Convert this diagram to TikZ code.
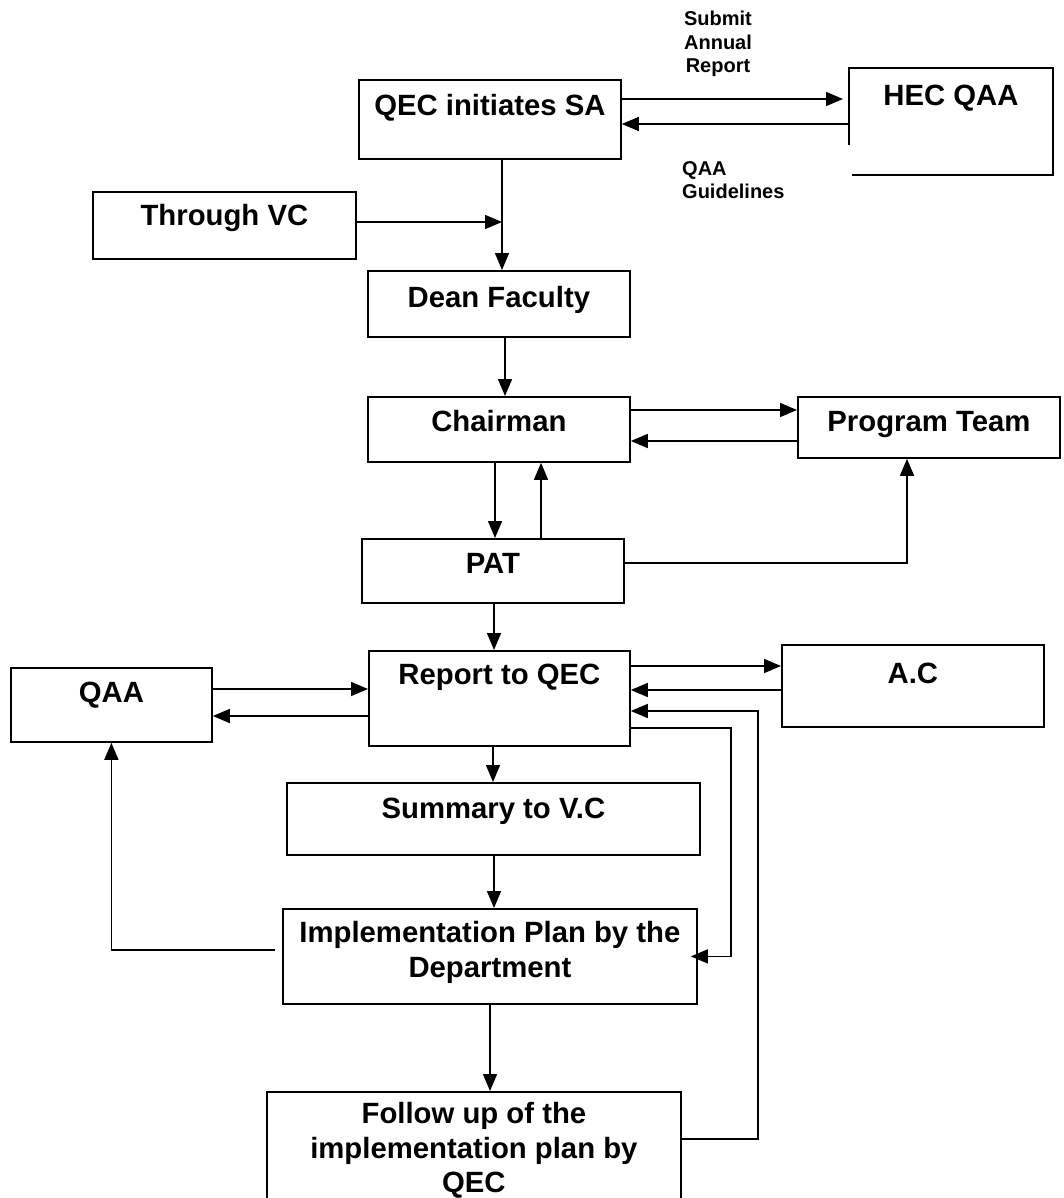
\documentclass[tikz,border=0pt]{standalone}
\usepackage{fontspec}
\setmainfont{Liberation Sans}
\usetikzlibrary{arrows.meta}
\begin{document}
\begin{tikzpicture}[x=1pt,y=-1pt,
  box/.style={draw, line width=1.8pt, anchor=north west, inner sep=0pt, align=center,
    font=\fontsize{29.3}{34.5}\selectfont\bfseries},
  note/.style={inner sep=0pt, font=\fontsize{20}{23.5}\selectfont\bfseries},
  arr/.style={line width=1.5pt, -{Triangle[length=17pt,width=14pt]}}]
\useasboundingbox (0,0) rectangle (1064,1198);
\clip (0,0) rectangle (1064,1198);
% boxes
\node[box, minimum width=262pt, text height=36pt, text depth=43pt] (qec) at (358,79) {QEC initiates SA};
\node[box, draw=none, minimum width=202pt, text height=37pt, text depth=68pt] (hec) at (849,68) {HEC QAA};
\draw[line width=1.8pt] (hec.west |- 0,145) -- (hec.north west) -- (hec.north east) -- (hec.south east) -- (852,0 |- hec.south);
\node[box, minimum width=263pt, text height=34pt, text depth=33pt] (through) at (92,191) {Through VC};
\node[box, minimum width=262pt, text height=37pt, text depth=29pt] (dean) at (367,270) {Dean Faculty};
\node[box, minimum width=262pt, text height=35pt, text depth=30pt] (chair) at (367,396) {Chairman};
\node[box, minimum width=262pt, text height=35pt, text depth=26pt] (team) at (797,396) {Program Team};
\node[box, minimum width=262pt, text height=35pt, text depth=29pt] (pat) at (361,538) {PAT};
\node[box, minimum width=261pt, text height=34pt, text depth=61pt] (report) at (368,650) {Report to QEC};
\node[box, minimum width=201pt, text height=35pt, text depth=39pt] (qaa) at (10,667) {QAA};
\node[box, minimum width=262pt, text height=39pt, text depth=43pt] (ac) at (781,644) {A.C};
\node[box, minimum width=413pt, text height=36pt, text depth=36pt] (summary) at (286,782) {Summary to V.C};
\node[box, minimum width=414pt, text height=68.5pt, text depth=26.5pt] (impl) at (282,908) {Implementation Plan by the\\Department};
\node[box, minimum width=414pt, text height=101pt, text depth=29pt] (follow) at (266,1091) {Follow up of the\\implementation plan by\\QEC};
\node[note, align=center] (sublbl) at (718,44) {Submit\\Annual\\Report};
\node[note, align=left, anchor=west] (guidelbl) at (682,180) {QAA\\Guidelines};
% connectors
\coordinate (join) at (502,222);
\draw[arr, shorten >=6pt] (qec.east |- 0,99) -- (hec.west |- 0,99);
\draw[arr] (hec.west |- 0,124) -- (qec.east |- 0,124);
\draw[arr] (502,0 |- qec.south) -- (502,0 |- dean.north);
\draw[arr] (through.east |- join) -- (join);
\draw[arr] (505,0 |- dean.south) -- (505,0 |- chair.north);
\draw[arr] (chair.east |- 0,410) -- (team.west |- 0,410);
\draw[arr] (team.west |- 0,441) -- (chair.east |- 0,441);
\draw[arr] (495,0 |- chair.south) -- (495,0 |- pat.north);
\draw[arr] (541,0 |- pat.north) -- (541,0 |- chair.south);
\draw[arr] (pat.east |- 0,563) -| (907,0 |- team.south);
\draw[arr] (494,0 |- pat.south) -- (494,0 |- report.north);
\draw[arr] (qaa.east |- 0,689) -- (report.west |- 0,689);
\draw[arr] (report.west |- 0,716) -- (qaa.east |- 0,716);
\draw[arr] (report.east |- 0,666) -- (ac.west |- 0,666);
\draw[arr] (ac.west |- 0,690) -- (report.east |- 0,690);
\draw[arr] (493,0 |- report.south) -- (493,0 |- summary.north);
\draw[arr] (494,0 |- summary.south) -- (494,0 |- impl.north);
\draw[arr] (490,0 |- impl.south) -- (490,0 |- follow.north);
\draw[arr, shorten >=-7pt] (report.east |- 0,728) -| (731,0 |- impl.east) -- (impl.east);
\draw[arr] (follow.east |- 0,1139) -| (758,711) -- (report.east |- 0,711);
\draw[arr, shorten <=7pt] (impl.west |- 0,950) -| (qaa.south);
\end{tikzpicture}
\end{document}
